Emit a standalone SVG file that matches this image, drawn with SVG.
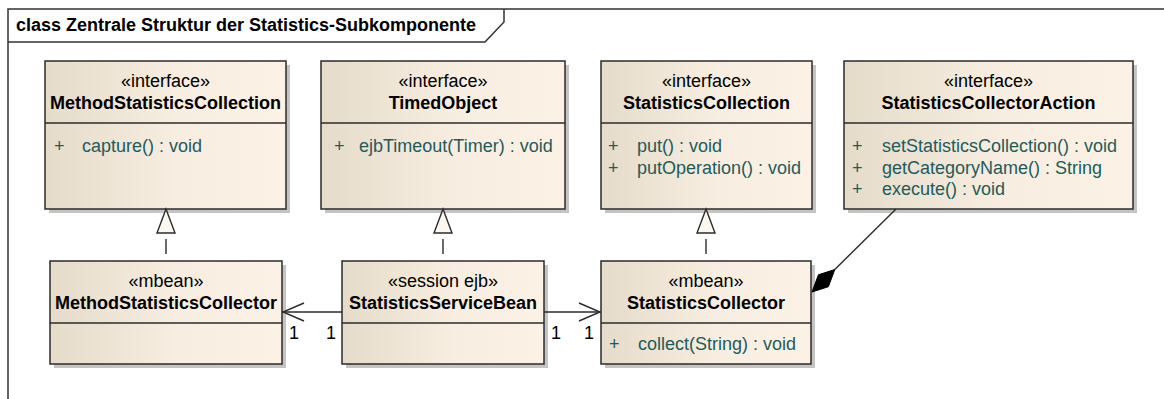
<svg xmlns="http://www.w3.org/2000/svg" width="1164" height="399" viewBox="0 0 1164 399">
<style>
text{font-family:"Liberation Sans",Arial,sans-serif;font-size:18px;fill:#000}
.box{fill:url(#g);stroke:#2b2b2b;stroke-width:1.5}
.sh{fill:#c4c4c4}
.sep{stroke:#2b2b2b;stroke-width:1.5}
.st{text-anchor:middle}
.nm{text-anchor:middle;font-weight:bold}
.op{fill:#1f5b5b}
.ln{stroke:#2b2b2b;stroke-width:1.4;fill:none}
.dash{stroke:#2b2b2b;stroke-width:1.4;fill:none;stroke-dasharray:15 13;stroke-dashoffset:22}
.tri{fill:#fdf8ef;stroke:#2b2b2b;stroke-width:1.4}
.frame{stroke:#333;stroke-width:1.5;fill:none}
</style>
<defs>
<linearGradient id="g" x1="0" y1="0" x2="1" y2="0">
<stop offset="0" stop-color="#e5dbc9"/>
<stop offset="0.55" stop-color="#f7eee1"/>
<stop offset="1" stop-color="#fbf2e5"/>
</linearGradient>
</defs>
<rect x="0" y="0" width="1164" height="399" fill="#fff"/>
<g id="frame">
<path class="frame" d="M8,400 V9 H1166"/>
<path class="frame" d="M8,42 H485 L504,22 V9"/>
<text x="16" y="31" font-weight="bold">class Zentrale Struktur der Statistics-Subkomponente</text>
</g>
<g id="MethodStatisticsCollection">
<rect class="sh" x="49" y="65" width="241" height="148"/>
<rect class="box" x="45" y="61" width="241" height="148"/>
<line class="sep" x1="45" y1="123" x2="286" y2="123"/>
<text class="st" x="165.5" y="87">«interface»</text>
<text class="nm" x="165.5" y="109">MethodStatisticsCollection</text>
<text class="op" x="54" y="152">+</text>
<text class="op" x="82" y="152">capture() : void</text>
</g>
<g id="TimedObject">
<rect class="sh" x="325" y="65" width="244" height="148"/>
<rect class="box" x="321" y="61" width="244" height="148"/>
<line class="sep" x1="321" y1="123" x2="565" y2="123"/>
<text class="st" x="443" y="87">«interface»</text>
<text class="nm" x="443" y="109">TimedObject</text>
<text class="op" x="334" y="152">+</text>
<text class="op" x="359" y="152">ejbTimeout(Timer) : void</text>
</g>
<g id="StatisticsCollection">
<rect class="sh" x="605" y="65" width="211" height="148"/>
<rect class="box" x="601" y="61" width="211" height="148"/>
<line class="sep" x1="601" y1="123" x2="812" y2="123"/>
<text class="st" x="706.5" y="87">«interface»</text>
<text class="nm" x="706.5" y="109">StatisticsCollection</text>
<text class="op" x="608" y="152">+</text>
<text class="op" x="637" y="152">put() : void</text>
<text class="op" x="608" y="173.5">+</text>
<text class="op" x="637" y="173.5">putOperation() : void</text>
</g>
<g id="StatisticsCollectorAction">
<rect class="sh" x="848" y="65" width="289" height="148"/>
<rect class="box" x="844" y="61" width="289" height="148"/>
<line class="sep" x1="844" y1="123" x2="1133" y2="123"/>
<text class="st" x="988.5" y="87">«interface»</text>
<text class="nm" x="988.5" y="109">StatisticsCollectorAction</text>
<text class="op" x="852" y="152">+</text>
<text class="op" x="882" y="152">setStatisticsCollection() : void</text>
<text class="op" x="852" y="173.5">+</text>
<text class="op" x="882" y="173.5">getCategoryName() : String</text>
<text class="op" x="852" y="195">+</text>
<text class="op" x="882" y="195">execute() : void</text>
</g>
<g id="MethodStatisticsCollector">
<rect class="sh" x="54" y="265" width="232" height="103"/>
<rect class="box" x="50" y="261" width="232" height="103"/>
<line class="sep" x1="50" y1="323" x2="282" y2="323"/>
<text class="st" x="166" y="287">«mbean»</text>
<text class="nm" x="166" y="309">MethodStatisticsCollector</text>
</g>
<g id="StatisticsServiceBean">
<rect class="sh" x="346" y="265" width="202" height="103"/>
<rect class="box" x="342" y="261" width="202" height="103"/>
<line class="sep" x1="342" y1="323" x2="544" y2="323"/>
<text class="st" x="443" y="287">«session ejb»</text>
<text class="nm" x="443" y="309">StatisticsServiceBean</text>
</g>
<g id="StatisticsCollector">
<rect class="sh" x="605" y="265" width="210" height="103"/>
<rect class="box" x="601" y="261" width="210" height="103"/>
<line class="sep" x1="601" y1="323" x2="811" y2="323"/>
<text class="st" x="706" y="287">«mbean»</text>
<text class="nm" x="706" y="309">StatisticsCollector</text>
<text class="op" x="609" y="350">+</text>
<text class="op" x="638" y="350">collect(String) : void</text>
</g>
<g id="connectors">
<path class="dash" d="M166,233 V261"/>
<polygon class="tri" points="166,209 157,233 175,233"/>
<path class="dash" d="M443,233 V261"/>
<polygon class="tri" points="443,209 434,233 452,233"/>
<path class="dash" d="M706,233 V261"/>
<polygon class="tri" points="706,209 697,233 715,233"/>
<path class="ln" d="M342,312 H282"/>
<path class="ln" d="M304,303 L283,312 L304,321"/>
<path class="ln" d="M544,312 H601"/>
<path class="ln" d="M579,303 L600,312 L579,321"/>
<text x="289" y="339">1</text>
<text x="326" y="339">1</text>
<text x="551" y="339">1</text>
<text x="584" y="339">1</text>
<path class="ln" d="M834.8,269.5 L896,209"/>
<polygon points="812,292 828.4,286.7 834.8,269.5 818.4,274.8" fill="#000" stroke="#000" stroke-width="1"/>
</g>
</svg>
